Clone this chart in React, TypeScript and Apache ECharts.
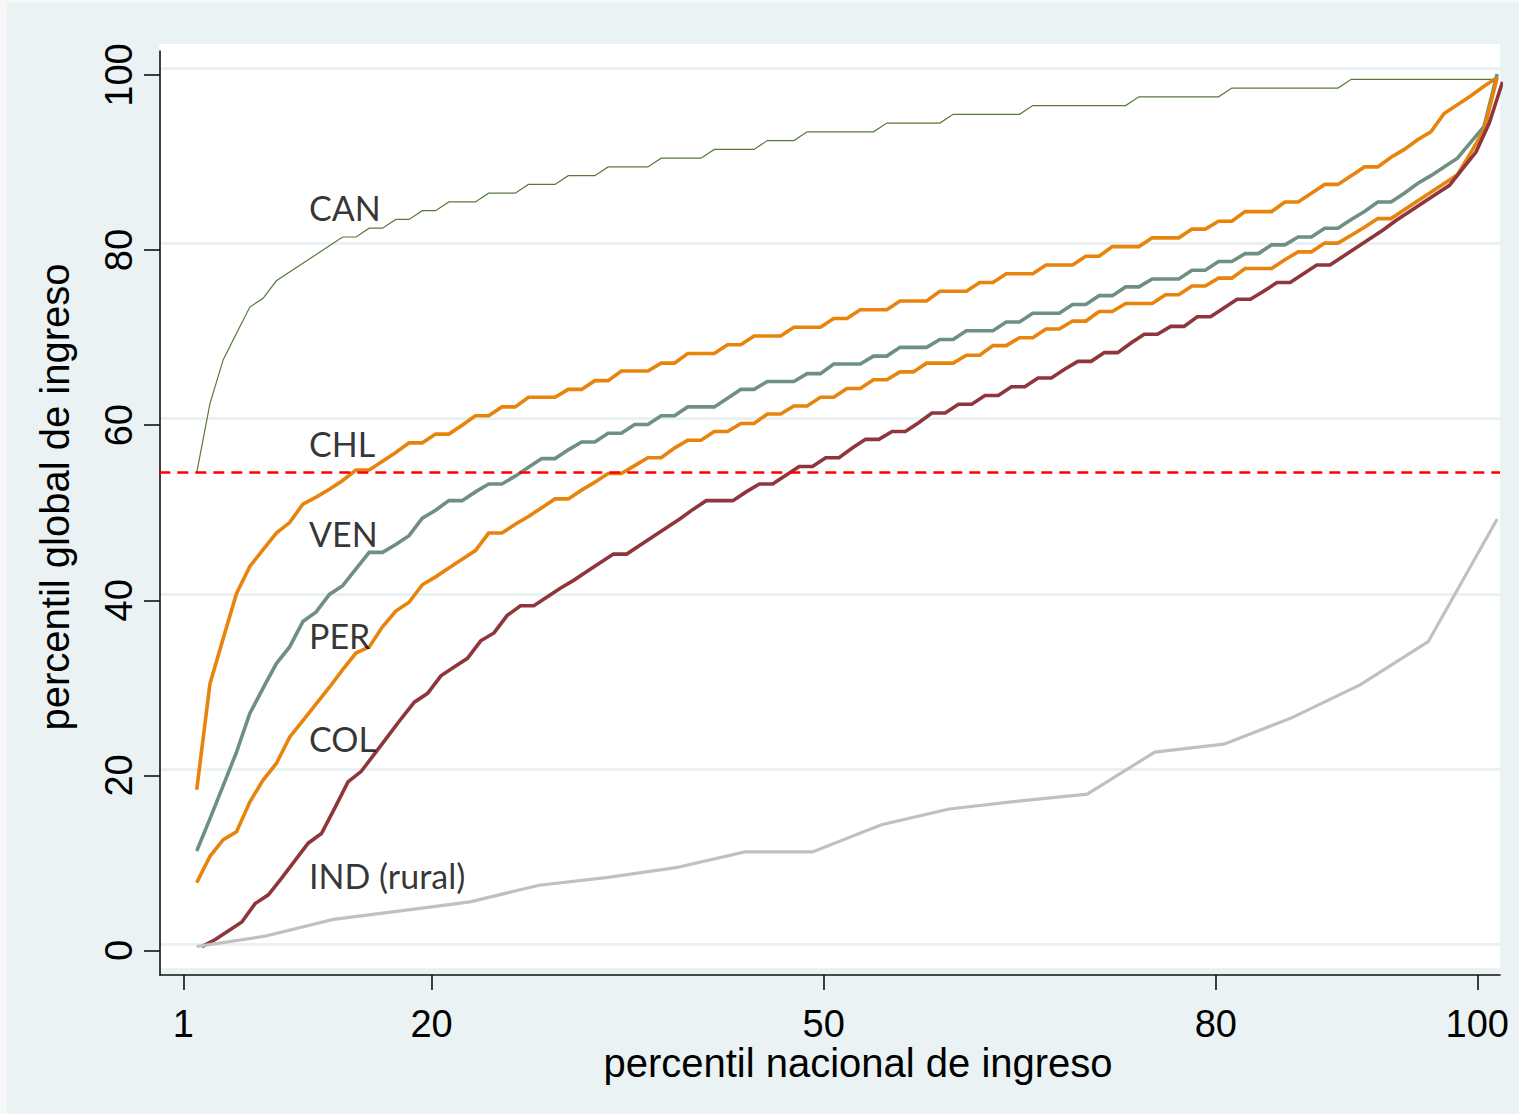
import React, { useEffect, useRef } from "react";
import * as echarts from "echarts";

// National income percentiles 1..99 (x of every country curve except rural India)
const NATIONAL_PCTL = Array.from({ length: 99 }, (_, i) => i + 1);

// Global income percentile reached by each national percentile
const CAN = [
  54.1, 62, 67, 70, 73, 74, 76, 77, 78, 79, 80, 81,
  81, 82, 82, 83, 83, 84, 84, 85, 85, 85,
  86, 86, 86, 87, 87, 87, 88, 88, 88,
  89, 89, 89, 89, 90, 90, 90, 90, 91, 91, 91, 91,
  92, 92, 92, 93, 93, 93, 93, 93, 93,
  94, 94, 94, 94, 94, 95, 95, 95, 95, 95, 95,
  96, 96, 96, 96, 96, 96, 96, 96,
  97, 97, 97, 97, 97, 97, 97,
  98, 98, 98, 98, 98, 98, 98, 98, 98,
  99, 99, 99, 99, 99, 99, 99, 99, 99, 99, 99, 99,
];

const CHL = [
  17.9, 30.0, 35.2, 40.3, 43.4, 45.3, 47.2, 48.4, 50.5, 51.3,
  52.2, 53.2, 54.4, 54.4, 55.4, 56.4, 57.5, 57.5, 58.5, 58.5,
  59.5, 60.6, 60.6, 61.6, 61.6, 62.7, 62.7, 62.7, 63.6, 63.6,
  64.6, 64.6, 65.7, 65.7, 65.7, 66.6, 66.6, 67.7, 67.7, 67.7,
  68.7, 68.7, 69.7, 69.7, 69.7, 70.7, 70.7, 70.7, 71.7, 71.7,
  72.7, 72.7, 72.7, 73.7, 73.7, 73.7, 74.8, 74.8, 74.8, 75.8,
  75.8, 76.8, 76.8, 76.8, 77.8, 77.8, 77.8, 78.8, 78.8, 79.9,
  79.9, 79.9, 80.9, 80.9, 80.9, 81.9, 81.9, 82.8, 82.8, 83.9,
  83.9, 83.9, 85.0, 85.0, 86.0, 87.0, 87.0, 88.0, 89.0, 89.0,
  90.1, 91.0, 92.1, 93.0, 95.1, 96.1, 97.1, 98.2, 99.2,
];

const VEN = [
  10.9, 14.6, 18.4, 22.2, 26.6, 29.5, 32.3, 34.2, 37.1, 38.2,
  40.2, 41.2, 43.1, 45.0, 45.0, 45.9, 46.9, 48.9, 49.8, 50.9,
  50.9, 51.9, 52.8, 52.8, 53.7, 54.7, 55.7, 55.7, 56.7, 57.6,
  57.6, 58.6, 58.6, 59.6, 59.6, 60.6, 60.6, 61.6, 61.6, 61.6,
  62.6, 63.6, 63.6, 64.5, 64.5, 64.5, 65.4, 65.4, 66.5, 66.5,
  66.5, 67.4, 67.4, 68.4, 68.4, 68.4, 69.3, 69.3, 70.3, 70.3,
  70.3, 71.3, 71.3, 72.3, 72.3, 72.3, 73.3, 73.3, 74.3, 74.3,
  75.3, 75.3, 76.2, 76.2, 76.2, 77.2, 77.2, 78.2, 78.2, 79.1,
  79.1, 80.1, 80.1, 81.0, 81.0, 82.0, 82.0, 83.0, 83.9, 85.0,
  85.0, 86.0, 87.1, 88.0, 89.0, 90.0, 91.8, 93.6, 99.6,
];

const PER = [
  7.3, 10.3, 12.2, 13.1, 16.5, 19.0, 20.9, 23.9, 25.8, 27.7,
  29.6, 31.6, 33.5, 34.2, 36.5, 38.3, 39.3, 41.3, 42.2, 43.2,
  44.2, 45.2, 47.2, 47.2, 48.2, 49.1, 50.1, 51.1, 51.1, 52.1,
  53.0, 54.0, 54.0, 54.9, 55.8, 55.8, 56.9, 57.8, 57.8, 58.8,
  58.8, 59.7, 59.7, 60.8, 60.8, 61.7, 61.7, 62.7, 62.7, 63.7,
  63.7, 64.7, 64.7, 65.6, 65.6, 66.6, 66.6, 66.6, 67.5, 67.5,
  68.6, 68.6, 69.5, 69.5, 70.5, 70.5, 71.4, 71.4, 72.5, 72.5,
  73.4, 73.4, 73.4, 74.4, 74.4, 75.4, 75.4, 76.3, 76.3, 77.4,
  77.4, 77.4, 78.4, 79.3, 79.3, 80.3, 80.3, 81.2, 82.1, 83.1,
  83.1, 84.1, 85.1, 86.1, 87.1, 88.1, 90.6, 93.2, 99.2,
];

const COL = [
  0.0, 0.8, 1.8, 2.8, 4.9, 5.9, 7.8, 9.8, 11.8, 12.9,
  15.8, 18.8, 20.0, 22.0, 24.0, 26.0, 27.9, 28.9, 30.9, 31.9,
  32.9, 34.9, 35.8, 37.8, 38.9, 38.9, 39.9, 40.9, 41.8, 42.8,
  43.8, 44.8, 44.8, 45.8, 46.8, 47.8, 48.8, 49.9, 50.9, 50.9,
  50.9, 51.9, 52.8, 52.8, 53.8, 54.8, 54.8, 55.8, 55.8, 56.9,
  57.9, 57.9, 58.8, 58.8, 59.8, 60.9, 60.9, 61.9, 61.9, 62.9,
  62.9, 63.9, 63.9, 64.9, 64.9, 65.9, 66.8, 66.8, 67.8, 67.8,
  68.9, 69.9, 69.9, 70.8, 70.8, 71.9, 71.9, 72.9, 73.9, 73.9,
  74.8, 75.8, 75.8, 76.8, 77.8, 77.8, 78.8, 79.8, 80.8, 81.8,
  82.9, 83.9, 84.9, 85.9, 86.9, 88.8, 90.7, 94.0, 98.7,
];

// Rural India is given by ventiles
const IND_PCTL = [1, 6.2, 11.3, 16.5, 21.6, 26.8, 32, 37.1, 42.3, 47.4, 52.6, 57.7, 62.9, 68.1, 73.2, 78.4, 83.5, 88.7, 93.8, 99];
const IND = [0, 1.2, 3.1, 4.1, 5.1, 7.0, 7.9, 9.0, 10.8, 10.8, 13.9, 15.7, 16.6, 17.4, 22.2, 23.1, 26.1, 29.9, 34.8, 48.8];

// Axis ticks
const X_TICKS = [1, 20, 50, 80, 100];
const Y_TICKS = [0, 20, 40, 60, 80, 100];

// Country tags written inside the plot
const TAG_NAMES = ["CAN", "CHL", "VEN", "PER", "COL", "IND (rural)"];
const TAG_Y = [84.3, 57.4, 47.1, 35.5, 23.7, 8.0];
const TAG_X = 9.5;

const ARIAL = "'Liberation Sans', Arial, Helvetica, sans-serif";
const CALIBRI_LIKE = "Lato, 'Open Sans', sans-serif";

const pairs = (xs: number[], ys: number[]) => xs.map((x, i) => [x, ys[i]]);

const curve = (name: string, xs: number[], ys: number[], color: string, width: number, xAxisIndex = 0) => ({
  type: "line",
  name,
  xAxisIndex,
  yAxisIndex: 0,
  data: pairs(xs, ys),
  symbol: "none",
  showSymbol: false,
  silent: true,
  z: 3,
  lineStyle: { color, width, join: "miter", cap: "butt" },
  itemStyle: { color },
});

export default function App() {
  const ref = useRef<HTMLDivElement>(null);

  useEffect(() => {
    if (!ref.current) return;
    const chart = echarts.init(ref.current, null, { renderer: "svg" });

    const option: any = {
      animation: false,
      backgroundColor: "#eaf2f3",
      grid: [
        // plot region: white panel, gridlines and curves
        {
          left: 159.3, right: 19, top: 44, bottom: 146,
          show: true, backgroundColor: "#ffffff", borderWidth: 0,
          containLabel: false, outerBoundsMode: "none",
        },
        // axes frame
        {
          left: 160, right: 19, top: 51, bottom: 139,
          show: false, containLabel: false, outerBoundsMode: "none",
        },
      ],
      xAxis: [
        { type: "value", gridIndex: 0, min: -1.82, max: 99.21, show: false },
        { type: "value", gridIndex: 0, min: -2.22, max: 98.81, show: false },
        {
          type: "value", gridIndex: 1, min: -0.78, max: 101.74,
          axisLine: { show: true, onZero: false, lineStyle: { color: "#111", width: 1.6 } },
          axisTick: { show: true, inside: false, length: 15, customValues: X_TICKS, lineStyle: { color: "#111", width: 1.6 } },
          axisLabel: {
            show: true, customValues: X_TICKS, margin: 32,
            fontSize: 38, lineHeight: 34, fontFamily: ARIAL, color: "#000",
          },
          splitLine: { show: false },
        },
      ],
      yAxis: [
        { type: "value", gridIndex: 0, min: -2.45, max: 103.03, show: false },
        {
          type: "value", gridIndex: 0, min: -2.71, max: 102.77, position: "right",
          axisLine: { show: false },
          axisTick: { show: false, customValues: Y_TICKS },
          axisLabel: { show: false },
          splitLine: { show: true, lineStyle: { color: "#e9f1f3", width: 3 } },
        },
        {
          type: "value", gridIndex: 1, min: -2.8, max: 102.74,
          axisLine: { show: true, onZero: false, lineStyle: { color: "#111", width: 1.6 } },
          axisTick: { show: true, inside: false, length: 16, customValues: Y_TICKS, lineStyle: { color: "#111", width: 1.6 } },
          axisLabel: {
            show: true, customValues: Y_TICKS, rotate: 90, margin: 22,
            fontSize: 38, lineHeight: 38, fontFamily: ARIAL, color: "#000",
          },
          splitLine: { show: false },
        },
      ],
      series: [
        {
          ...curve("CAN", NATIONAL_PCTL, CAN, "#587a38", 1.2),
          markLine: {
            silent: true,
            symbol: "none",
            label: { show: false },
            lineStyle: { color: "#ff0000", width: 2.5, type: [11, 7] },
            data: [{ yAxis: CAN[0] }],
          },
        },
        curve("CHL", NATIONAL_PCTL, CHL, "#e8830c", 3.6),
        curve("VEN", NATIONAL_PCTL, VEN, "#6f9080", 3.6),
        curve("PER", NATIONAL_PCTL, PER, "#e8830c", 3.6),
        curve("COL", NATIONAL_PCTL, COL, "#8e363c", 3.6, 1),
        curve("IND (rural)", IND_PCTL, IND, "#c0c0c0", 3.2),
        {
          type: "scatter",
          name: "tags",
          xAxisIndex: 0,
          yAxisIndex: 0,
          silent: true,
          z: 5,
          symbolSize: 1,
          itemStyle: { color: "rgba(0,0,0,0)" },
          data: TAG_NAMES.map((n, i) => ({ name: n, value: [TAG_X, TAG_Y[i]] })),
          label: {
            show: true,
            formatter: "{b}",
            position: [0, 0],
            align: "left",
            verticalAlign: "middle",
            fontSize: 34,
            lineHeight: 34,
            fontFamily: CALIBRI_LIKE,
            color: "#000",
          },
        },
      ],
      graphic: [
        { type: "rect", left: 0, top: 0, shape: { width: 7, height: 1114 }, style: { fill: "#f6f8f8" }, silent: true },
        { type: "rect", left: 0, top: 0, shape: { width: 1519, height: 3 }, style: { fill: "#f6f8f8" }, silent: true },
        {
          type: "text", x: 858, y: 1063, silent: true,
          style: {
            text: "percentil nacional de ingreso", fill: "#000",
            fontSize: 40, lineHeight: 40, fontFamily: ARIAL, align: "center", verticalAlign: "middle",
          },
        },
        {
          type: "text", x: 55, y: 497, rotation: Math.PI / 2, silent: true,
          style: {
            text: "percentil global de ingreso", fill: "#000",
            fontSize: 40, lineHeight: 40, fontFamily: ARIAL, align: "center", verticalAlign: "middle",
          },
        },
      ],
    };

    chart.setOption(option);
    return () => chart.dispose();
  }, []);

  return (
    <div
      ref={ref}
      style={{ position: "absolute", left: 0, top: 0, width: 1519, height: 1114 }}
    />
  );
}
